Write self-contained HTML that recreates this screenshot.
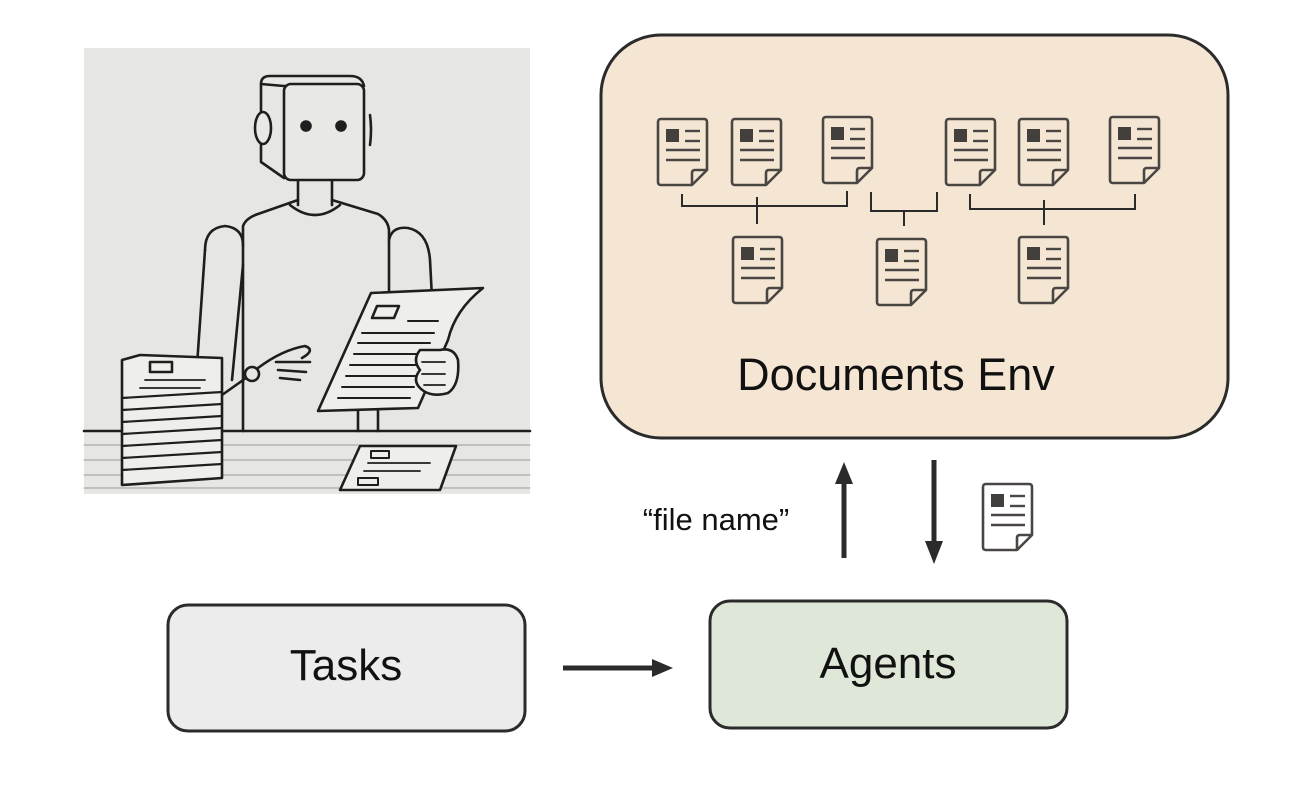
<!DOCTYPE html>
<html><head><meta charset="utf-8"><style>
html,body{margin:0;padding:0;background:#fff;}
body{width:1290px;height:794px;overflow:hidden;position:relative;font-family:"Liberation Sans",sans-serif;}
</style></head><body>
<svg width="1290" height="794" viewBox="0 0 1290 794" xmlns="http://www.w3.org/2000/svg">
<defs>
<g id="doc">
<path d="M3 0 H46 Q49 0 49 3 V51 L34 66 H3 Q0 66 0 63 V3 Q0 0 3 0 Z" fill="none" stroke="#4a4644" stroke-width="2.6" stroke-linejoin="round"/>
<path d="M49 51 H37 Q34 51 34 54 V66" fill="none" stroke="#4a4644" stroke-width="2.6" stroke-linejoin="round"/>
<rect x="8" y="10" width="13" height="13" fill="#433f3d"/>
<line x1="27" y1="12" x2="42" y2="12" stroke="#4a4644" stroke-width="2.4"/>
<line x1="27" y1="22" x2="42" y2="22" stroke="#4a4644" stroke-width="2.4"/>
<line x1="8" y1="31" x2="42" y2="31" stroke="#4a4644" stroke-width="2.4"/>
<line x1="8" y1="41" x2="42" y2="41" stroke="#4a4644" stroke-width="2.4"/>
</g>
</defs>
<rect x="84" y="48" width="446" height="446" fill="#e6e6e2"/>
<g fill="none" stroke="#1e1e1e" stroke-width="2.6" stroke-linejoin="round" stroke-linecap="round">
<g stroke="#9a9a96" stroke-width="1"><line x1="84" y1="445" x2="530" y2="445"/><line x1="84" y1="460" x2="530" y2="460"/><line x1="84" y1="475" x2="530" y2="475"/><line x1="84" y1="488" x2="530" y2="488"/></g>
<line x1="84" y1="431" x2="530" y2="431"/>
<!-- left arm -->
<path d="M205 250 Q205 228 225 226 Q243 228 243 245"/>
<path d="M205 250 L196 380 L212 384"/>
<path d="M243 265 L232 380"/>
<path d="M222 395 L246 378"/>
<circle cx="252" cy="374" r="7"/>
<path d="M258 368 Q282 350 305 346 Q316 350 302 358 M276 362 L310 362 M278 370 L306 372 M280 378 L300 380"/>
<!-- right arm -->
<path d="M389 240 Q392 226 408 228 Q428 232 430 260 L432 298"/>
<!-- torso -->
<path d="M243 431 L243 226 Q246 218 258 214 L298 200 M332 200 L378 214 Q388 220 389 230 L389 292 M378 410 L378 431 M358 410 L358 431"/>
<path d="M290 205 Q315 225 340 205"/>
<path d="M298 180 L298 205 M332 180 L332 205"/>
<!-- head -->
<path d="M261 84 Q261 76 270 76 L350 76 Q362 76 364 86 L284 86 Z" fill="#e8e8e5"/>
<path d="M261 84 L261 162 L284 178"/>
<rect x="284" y="84" width="80" height="96" rx="7" fill="#e8e8e5"/>
<ellipse cx="263" cy="128" rx="8" ry="16" fill="#e8e8e5"/>
<path d="M370 115 Q372 130 370 145"/>
<circle cx="306" cy="126" r="4.5" fill="#1e1e1e"/>
<circle cx="341" cy="126" r="4.5" fill="#1e1e1e"/>
<!-- held paper -->
<path d="M371 293 L483 288 Q455 310 448 340 L418 408 L318 411 Z" fill="#eeeeea"/>
<polygon points="377,306 399,306 394,318 372,318"/>
<g stroke-width="2"><line x1="408" y1="321" x2="438" y2="321"/><line x1="362" y1="333" x2="434" y2="333"/><line x1="358" y1="343" x2="430" y2="343"/><line x1="354" y1="354" x2="426" y2="354"/><line x1="350" y1="365" x2="422" y2="365"/><line x1="346" y1="376" x2="418" y2="376"/><line x1="342" y1="387" x2="414" y2="387"/><line x1="338" y1="398" x2="410" y2="398"/></g>
<path d="M420 350 Q412 360 420 370 Q412 380 420 388 Q430 398 448 393 Q460 385 458 360 Q454 347 440 350 Z" fill="#eeeeea"/>
<g stroke-width="1.8"><line x1="422" y1="362" x2="445" y2="362"/><line x1="422" y1="374" x2="445" y2="374"/><line x1="424" y1="385" x2="445" y2="385"/></g>
<!-- stack -->
<path d="M122 360 L140 355 L222 358 L222 478 L122 485 Z" fill="#eeeeea"/>
<g stroke-width="2.2"><line x1="122" y1="398" x2="222" y2="392"/><line x1="122" y1="410" x2="222" y2="404"/><line x1="122" y1="422" x2="222" y2="416"/><line x1="122" y1="434" x2="222" y2="428"/><line x1="122" y1="446" x2="222" y2="440"/><line x1="122" y1="458" x2="222" y2="452"/><line x1="122" y1="470" x2="222" y2="464"/></g>
<rect x="150" y="362" width="22" height="10"/>
<g stroke-width="1.8"><line x1="145" y1="380" x2="205" y2="380"/><line x1="140" y1="388" x2="200" y2="388"/></g>
<!-- flat paper -->
<path d="M360 446 L456 446 L440 490 L340 490 Z" fill="#eeeeea"/>
<rect x="371" y="451" width="18" height="7" stroke-width="2"/><rect x="358" y="478" width="20" height="7" stroke-width="2"/>
<g stroke-width="1.8"><line x1="368" y1="463" x2="430" y2="463"/><line x1="364" y1="471" x2="420" y2="471"/></g>
</g>
<!-- env box -->
<rect x="601" y="35" width="627" height="403" rx="60" fill="#f5e6d4" stroke="#2b2b2b" stroke-width="3"/>
<use href="#doc" x="658" y="119"/>
<use href="#doc" x="732" y="119"/>
<use href="#doc" x="823" y="117"/>
<use href="#doc" x="946" y="119"/>
<use href="#doc" x="1019" y="119"/>
<use href="#doc" x="1110" y="117"/>
<use href="#doc" x="733" y="237"/>
<use href="#doc" x="877" y="239"/>
<use href="#doc" x="1019" y="237"/>
<g fill="none" stroke="#2b2b2b" stroke-width="2">
<path d="M682 194 V206 H847 V191 M757 197 V224"/>
<path d="M871 192 V211 H937 V192 M904 211 V226"/>
<path d="M970 194 V209 H1135 V194 M1044 200 V225"/>
</g>
<text x="896" y="390" font-size="45" text-anchor="middle" fill="#111">Documents Env</text>
<!-- arrows -->
<line x1="844" y1="558" x2="844" y2="480" stroke="#2b2b2b" stroke-width="5"/>
<polygon points="835,484 853,484 844,462" fill="#2b2b2b"/>
<line x1="934" y1="460" x2="934" y2="545" stroke="#2b2b2b" stroke-width="5"/>
<polygon points="925,541 943,541 934,564" fill="#2b2b2b"/>
<text x="716" y="530" font-size="31" text-anchor="middle" fill="#111">“file name”</text>
<use href="#doc" x="983" y="484"/>
<!-- boxes -->
<rect x="168" y="605" width="357" height="126" rx="20" fill="#ececec" stroke="#2b2b2b" stroke-width="3"/>
<text x="346" y="680" font-size="44" text-anchor="middle" fill="#111">Tasks</text>
<rect x="710" y="601" width="357" height="127" rx="20" fill="#dfe8d8" stroke="#2b2b2b" stroke-width="3"/>
<text x="888" y="678" font-size="44" text-anchor="middle" fill="#111">Agents</text>
<line x1="563" y1="668" x2="655" y2="668" stroke="#2b2b2b" stroke-width="5"/>
<polygon points="652,659 652,677 673,668" fill="#2b2b2b"/>
</svg>
</body></html>
